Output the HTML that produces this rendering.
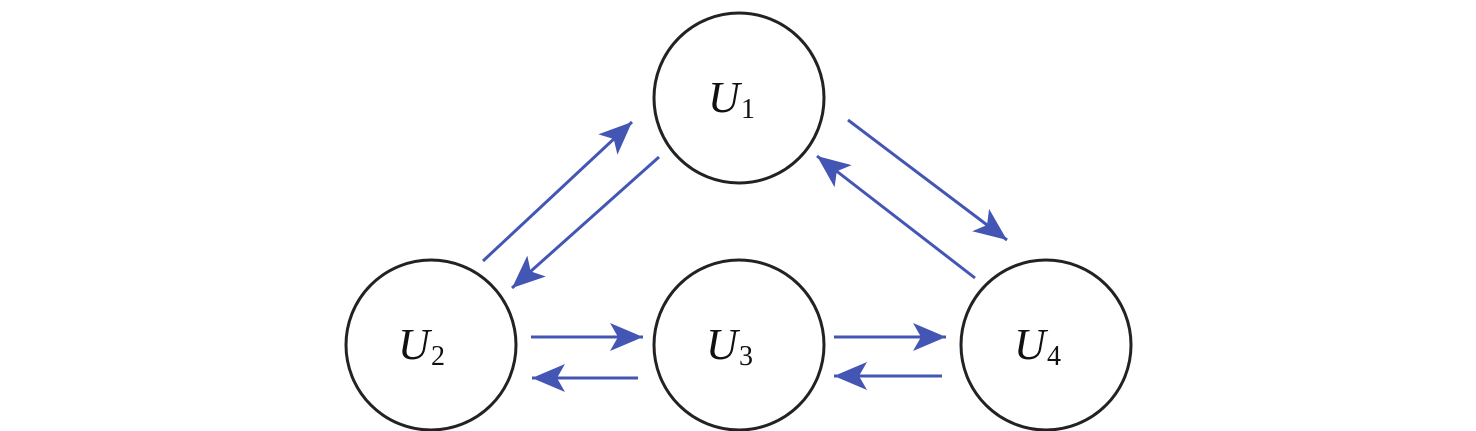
<!DOCTYPE html>
<html><head><style>body{margin:0;background:#fff}svg{display:block}</style></head><body>
<svg width="1476" height="431" xmlns="http://www.w3.org/2000/svg">
<defs>
<marker id="a" markerUnits="userSpaceOnUse" markerWidth="40" markerHeight="40" refX="33" refY="14" orient="auto">
<path d="M0,0 L33,14 L0,28 L8,14 Z" fill="#4456b4"/>
</marker>
</defs>
<g fill="none" stroke="#222" stroke-width="3">
<circle cx="739" cy="98" r="85"/>
<circle cx="431" cy="345" r="85"/>
<circle cx="739" cy="345" r="85"/>
<circle cx="1046" cy="345" r="85"/>
</g>
<g stroke="#4456b4" stroke-width="3" marker-end="url(#a)">
<line x1="483" y1="261" x2="632" y2="122"/>
<line x1="659" y1="157" x2="512" y2="288"/>
<line x1="848" y1="120" x2="1007" y2="240"/>
<line x1="975" y1="278" x2="817" y2="156"/>
<line x1="531" y1="337" x2="643" y2="337"/>
<line x1="638" y1="378" x2="532" y2="378"/>
<line x1="834" y1="337" x2="946" y2="337"/>
<line x1="942" y1="376" x2="834" y2="376"/>
</g>
<g font-family="Liberation Serif, serif" fill="#111">
<text x="708" y="112" font-size="44" font-style="italic">U</text><text x="741" y="118" font-size="28">1</text>
<text x="398" y="359" font-size="44" font-style="italic">U</text><text x="431" y="365" font-size="28">2</text>
<text x="706" y="359" font-size="44" font-style="italic">U</text><text x="739" y="365" font-size="28">3</text>
<text x="1014" y="359" font-size="44" font-style="italic">U</text><text x="1047" y="365" font-size="28">4</text>
</g>
</svg>
</body></html>
